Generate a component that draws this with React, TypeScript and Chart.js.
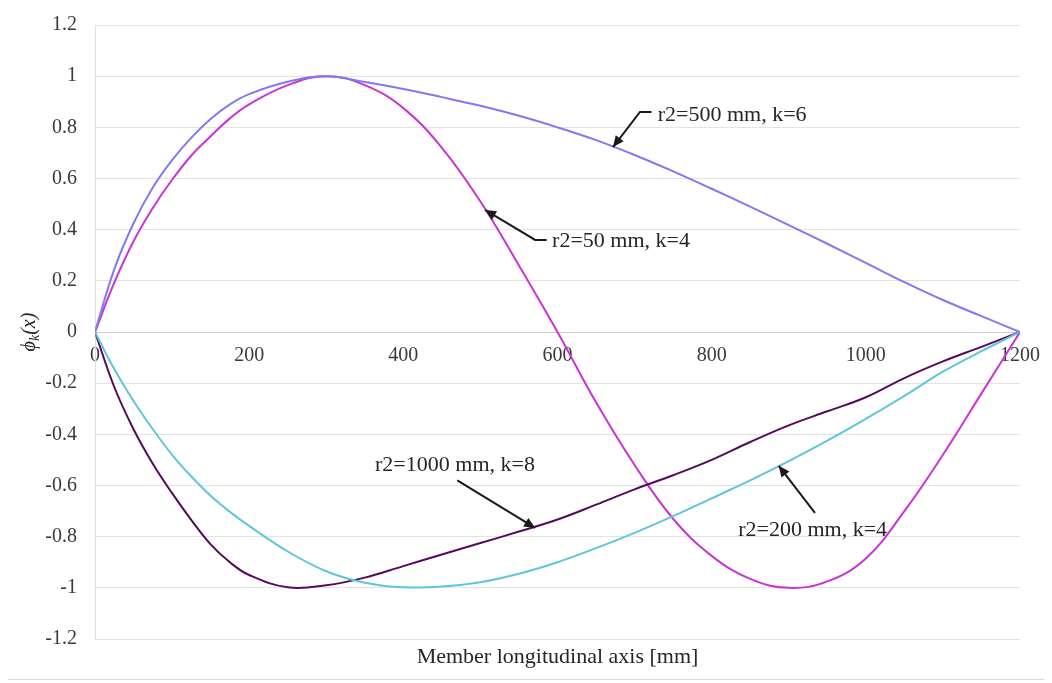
import React, { useEffect, useRef } from "react";
import { Chart, registerables } from "chart.js";

Chart.register(...registerables);

// ---- data ----
const X_MM = [0, 25, 50, 75, 100, 125, 150, 175, 200, 250, 300, 350, 400, 450, 500, 550, 600, 650, 700, 750, 800, 850, 900, 950, 1000, 1050, 1100, 1150, 1200];

const PHI_R500_K6 = [0, 0.245, 0.425, 0.565, 0.672, 0.76, 0.833, 0.89, 0.93, 0.978, 1.0, 0.977, 0.95, 0.918, 0.884, 0.845, 0.8, 0.75, 0.692, 0.628, 0.56, 0.49, 0.418, 0.345, 0.27, 0.195, 0.125, 0.062, 0];
const PHI_R50_K4 = [0, 0.193, 0.355, 0.485, 0.595, 0.69, 0.765, 0.835, 0.89, 0.965, 1.0, 0.965, 0.875, 0.72, 0.51, 0.26, 0, -0.275, -0.52, -0.73, -0.875, -0.965, -1.0, -0.975, -0.885, -0.7, -0.48, -0.24, 0];
const PHI_R1000_K8 = [0, -0.215, -0.38, -0.515, -0.63, -0.735, -0.83, -0.9, -0.95, -0.998, -0.99, -0.96, -0.915, -0.87, -0.825, -0.78, -0.733, -0.675, -0.615, -0.56, -0.5, -0.43, -0.365, -0.31, -0.255, -0.18, -0.115, -0.058, 0];
const PHI_R200_K4 = [0, -0.145, -0.27, -0.38, -0.48, -0.565, -0.64, -0.703, -0.758, -0.858, -0.935, -0.98, -0.998, -0.995, -0.978, -0.945, -0.9, -0.845, -0.785, -0.72, -0.65, -0.58, -0.505, -0.425, -0.34, -0.25, -0.155, -0.075, 0];

const X_TICKS = [0, 200, 400, 600, 800, 1000, 1200];
const Y_TICKS = [-1.2, -1, -0.8, -0.6, -0.4, -0.2, 0, 0.2, 0.4, 0.6, 0.8, 1, 1.2];

const SERIES_LABELS = ["r2=500 mm, k=6", "r2=50 mm, k=4", "r2=1000 mm, k=8", "r2=200 mm, k=4"];

const X_TITLE = "Member longitudinal axis [mm]";

// annotation anchors in data units (x in mm, y in phi)
const ANNOTATIONS = [
  { text: SERIES_LABELS[0], tx: 730, ty: 0.848, align: "left", path: [[722, 0.86], [707, 0.86], [672, 0.723]] },
  { text: SERIES_LABELS[1], tx: 593, ty: 0.355, align: "left", path: [[586, 0.36], [571, 0.36], [506, 0.477]] },
  { text: SERIES_LABELS[2], tx: 467, ty: -0.52, align: "center", path: [[470, -0.58], [571, -0.766]] },
  { text: SERIES_LABELS[3], tx: 931, ty: -0.773, align: "center", path: [[934, -0.707], [887, -0.523]] },
];

const SERIF = "'Liberation Serif', 'Times New Roman', serif";

const overlayPlugin = {
  id: "overlay",
  afterDatasetsDraw(chart: any) {
    const { ctx, chartArea } = chart;
    const xs = chart.scales.x;
    const ys = chart.scales.y;
    ctx.save();
    ctx.strokeStyle = "#1a1a1a";
    ctx.fillStyle = "#1a1a1a";
    ctx.lineWidth = 2;
    for (const a of ANNOTATIONS) {
      const pts = a.path.map(([x, y]) => [xs.getPixelForValue(x), ys.getPixelForValue(y)]);
      ctx.beginPath();
      ctx.moveTo(pts[0][0], pts[0][1]);
      for (let i = 1; i < pts.length; i++) ctx.lineTo(pts[i][0], pts[i][1]);
      ctx.stroke();
      const [x1, y1] = pts[pts.length - 2];
      const [x2, y2] = pts[pts.length - 1];
      const ang = Math.atan2(y2 - y1, x2 - x1);
      const L = 11, W = 5;
      ctx.beginPath();
      ctx.moveTo(x2, y2);
      ctx.lineTo(x2 - L * Math.cos(ang) + W * Math.sin(ang), y2 - L * Math.sin(ang) - W * Math.cos(ang));
      ctx.lineTo(x2 - L * Math.cos(ang) - W * Math.sin(ang), y2 - L * Math.sin(ang) + W * Math.cos(ang));
      ctx.closePath();
      ctx.fill();
      ctx.font = `22px ${SERIF}`;
      ctx.fillStyle = "#262626";
      ctx.textAlign = a.align as CanvasTextAlign;
      ctx.textBaseline = "middle";
      ctx.fillText(a.text, xs.getPixelForValue(a.tx), ys.getPixelForValue(a.ty));
      ctx.fillStyle = "#1a1a1a";
    }
    // x axis title
    ctx.font = `22px ${SERIF}`;
    ctx.fillStyle = "#262626";
    ctx.textAlign = "center";
    ctx.textBaseline = "middle";
    ctx.fillText(X_TITLE, (chartArea.left + chartArea.right) / 2, chartArea.bottom + 18);
    // y axis title: phi_k(x), rotated
    ctx.translate(22, ys.getPixelForValue(0));
    ctx.rotate(-Math.PI / 2);
    ctx.textAlign = "left";
    ctx.textBaseline = "middle";
    const f1 = `italic 20px ${SERIF}`;
    const f2 = `italic 14px ${SERIF}`;
    ctx.font = f1;
    const wPhi = ctx.measureText("\u03d5").width;
    const wX = ctx.measureText("(x)").width;
    ctx.font = f2;
    const wK = ctx.measureText("k").width;
    const total = wPhi + wK + wX;
    let cx = -total / 2;
    ctx.font = f1;
    ctx.fillText("\u03d5", cx, 0);
    cx += wPhi;
    ctx.font = f2;
    ctx.fillText("k", cx, 5);
    cx += wK;
    ctx.font = f1;
    ctx.fillText("(x)", cx, 0);
    ctx.restore();
  },
};

export default function App() {
  const ref = useRef<HTMLCanvasElement | null>(null);
  useEffect(() => {
    if (!ref.current) return;
    const mk = (arr: number[]) => X_MM.map((x, i) => ({ x, y: arr[i] }));
    const common = { pointRadius: 0, borderWidth: 2, tension: 0.4, fill: false };
    const chart = new Chart(ref.current, {
      type: "line",
      data: {
        datasets: [
          { label: SERIES_LABELS[3], data: mk(PHI_R200_K4), borderColor: "#5fc6da", ...common },
          { label: SERIES_LABELS[2], data: mk(PHI_R1000_K8), borderColor: "#560a5e", ...common },
          { label: SERIES_LABELS[0], data: mk(PHI_R500_K6), borderColor: "#8079f2", ...common },
          { label: SERIES_LABELS[1], data: mk(PHI_R50_K4), borderColor: "#c934d2", ...common },
        ],
      },
      options: {
        responsive: false,
        animation: false,
        layout: { padding: { top: 20, right: 24, bottom: 40, left: 0 } },
        plugins: { legend: { display: false }, tooltip: { enabled: false } },
        scales: {
          x: {
            type: "linear",
            min: 0,
            max: 1200,
            position: { y: 0 } as any,
            afterBuildTicks: (s: any) => { s.ticks = X_TICKS.map((v) => ({ value: v })); },
            afterFit: (s: any) => { s.paddingLeft = 0; s.paddingRight = 0; },
            ticks: {
              font: { family: SERIF, size: 20 },
              color: "#3a3a3a",
              padding: 12,
              maxRotation: 0,
              autoSkip: false,
              callback: (v: any) => String(v),
            },
            grid: { display: false, drawTicks: false },
            border: { display: true, color: "#d0d0d0", width: 1 },
          },
          y: {
            min: -1.2,
            max: 1.2,
            afterBuildTicks: (s: any) => { s.ticks = Y_TICKS.map((v) => ({ value: v })); },
            afterFit: (s: any) => { s.width = 87; s.paddingTop = 0; s.paddingBottom = 0; },
            ticks: {
              font: { family: SERIF, size: 20 },
              color: "#3a3a3a",
              padding: 18,
              callback: (v: any) => String(Math.round(Number(v) * 10) / 10),
            },
            grid: { color: "#e3e3e3", lineWidth: 1, drawTicks: false },
            border: { display: true, color: "#e0e0e0" },
          },
        },
      },
      plugins: [overlayPlugin],
    });
    return () => chart.destroy();
  }, []);
  return (
    <div
      style={{
        position: "relative",
        width: 1038,
        height: 676,
        marginTop: -4,
        marginLeft: -1,
        border: "1px solid #d9d9d9",
        boxSizing: "border-box",
        background: "#fff",
      }}
    >
      <canvas ref={ref} width={1036} height={674} style={{ display: "block", width: 1036, height: 674 }} />
    </div>
  );
}
